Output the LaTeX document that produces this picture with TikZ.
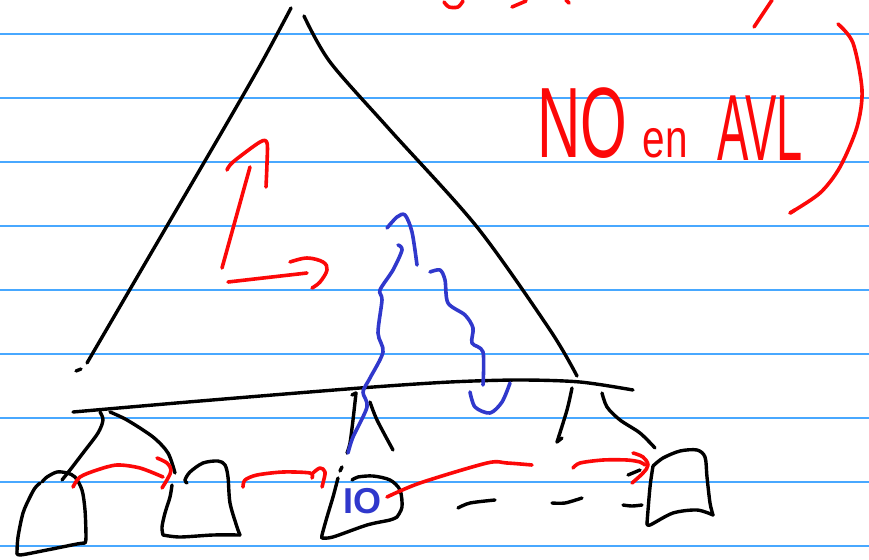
\documentclass[tikz,border=0pt]{standalone}
\usepackage{fontspec}
\setmainfont{Liberation Sans}
\usepackage{graphicx}
\definecolor{penred}{RGB}{252,8,8}
\definecolor{penblue}{RGB}{48,56,204}
\definecolor{rulecol}{RGB}{72,168,255}
\begin{document}
\begin{tikzpicture}[x=1pt,y=-1pt,
  blk/.style={line width=3.4pt, line cap=round, line join=round, black},
  rd/.style={line width=3.6pt, line cap=round, line join=round, penred},
  bl/.style={line width=3.6pt, line cap=round, line join=round, penblue},
  rulestyle/.style={line width=1.4pt, rulecol},
  redtxt/.style={text=penred, inner sep=0pt, anchor=base},
  bluetxt/.style={text=penblue, inner sep=0pt, anchor=base}]
\useasboundingbox (0,0) rectangle (869,559);
\fill[white] (0,0) rectangle (869,559);
% ruled lines
\foreach \yy in {34,98,162,226,290,354,418,482,546}
  \draw[rulestyle] (0,\yy) -- (869,\yy);

% ---------- triangle (tree) ----------
\draw[blk] plot[smooth] coordinates {(291,8) (262,62) (223,130) (150,255) (87,363)};
\draw[blk] (76,371) -- (81,369);
\draw[blk] plot[smooth] coordinates {(304,16) (330,62) (390,130) (477,227) (550,330) (577,376)};
% bottom bar
\draw[blk] plot[smooth] coordinates {(73,412) (200,401) (360,388) (450,382) (520,380) (580,382) (633,390)};

% ---------- branches ----------
\draw[blk] plot[smooth] coordinates {(100,412) (103,420) (98,433) (83,453) (70,470) (62,480)};
\draw[blk] plot[smooth] coordinates {(110,412) (127,420) (153,437) (168,453) (175,473)};
\draw[blk] plot[smooth] coordinates {(356,393) (353,420) (350,443) (347,453)};
\draw[blk] (352,395) -- (356,393);
\draw[blk] (342,467) -- (340,471);
\draw[blk] plot[smooth] coordinates {(370,402) (377,420) (393,450)};
\draw[blk] plot[smooth] coordinates {(572,388) (567,410) (557,442)};
\draw[blk] (557,442) -- (562,438);
\draw[blk] plot[smooth] coordinates {(602,393) (607,407) (620,420) (640,433) (655,448)};

% ---------- boxes ----------
% box 1
\draw[blk] plot[smooth, tension=0.5] coordinates {(40,483) (35,488) (30,497) (23,513) (18,537) (17,552)};
\draw[blk] plot[smooth, tension=0.5] coordinates {(17,552) (20,555) (47,550) (77,544) (85,543)};
\draw[blk] plot[smooth, tension=0.5] coordinates {(85,543) (86,537) (85,510) (82,490) (75,477) (67,473) (57,472) (47,477) (42,482)};
% box 2
\draw[blk] plot[smooth, tension=0.5] coordinates {(172,485) (170,497) (165,513) (162,527) (163,535)};
\draw[blk] plot[smooth, tension=0.5] coordinates {(163,535) (180,537) (213,535) (240,535)};
\draw[blk] plot[smooth, tension=0.5] coordinates {(240,535) (237,527) (230,503) (228,477) (225,465) (218,461) (203,463) (190,472) (185,480) (187,483)};
% box 3
\draw[blk] plot[smooth, tension=0.5] coordinates {(338,478) (333,497) (327,517) (322,535) (322,538)};
\draw[blk] plot[smooth, tension=0.5] coordinates {(322,538) (333,537) (367,525) (390,520) (397,517)};
\draw[blk] plot[smooth, tension=0.5] coordinates {(397,517) (402,507) (400,490) (390,480) (373,476) (358,477) (352,480)};
% box 4
\draw[blk] (628,475) -- (640,470);
\draw[blk] plot[smooth, tension=0.5] coordinates {(653,466) (650,487) (647,523)};
\draw[blk] plot[smooth, tension=0.5] coordinates {(647,523) (650,525) (673,513) (697,510) (713,515)};
\draw[blk] plot[smooth, tension=0.5] coordinates {(713,515) (710,503) (707,477) (705,457) (697,450) (680,451) (663,458) (653,466)};
% dashes
\draw[blk] plot[smooth] coordinates {(458,508) (470,503) (495,500)};
\draw[blk] plot[smooth] coordinates {(552,503) (565,503) (582,498)};
\draw[blk] plot[smooth] coordinates {(623,505) (632,506) (642,505)};

% ---------- red arrows ----------
\draw[rd] plot[smooth] coordinates {(73,487) (80,477) (97,470) (117,465) (140,468) (163,477)};
\draw[rd] plot[smooth, tension=0.6] coordinates {(157,458) (167,463) (171,470) (168,478) (162,488)};
\draw[rd] plot[smooth] coordinates {(243,487) (245,480) (257,475) (283,472) (310,473) (312,478)};
\draw[rd] plot[smooth, tension=0.6] coordinates {(313,473) (320,468) (325,472) (323,483) (322,487)};
\draw[rd] plot[smooth] coordinates {(387,497) (420,483) (487,463) (507,463) (532,465)};
\draw[rd] plot[smooth] coordinates {(573,468) (580,463) (603,460) (627,460) (640,462) (645,465)};
\draw[rd] plot[smooth, tension=0.6] coordinates {(633,453) (643,457) (648,465) (643,473) (632,483)};
% L-shaped arrows
\draw[rd] (222,268) -- (250,167);
\draw[rd] plot[smooth, tension=0.5] coordinates {(227,170) (233,162) (260,142) (267,143) (267,163) (266,187)};
\draw[rd] (228,282) -- (307,273);
\draw[rd] plot[smooth, tension=0.6] coordinates {(290,262) (307,258) (323,262) (327,270) (320,282) (312,288)};
% right parenthesis
\draw[rd] plot[smooth] coordinates {(838,24) (853,43) (862,90) (857,127) (840,167) (820,193) (790,213)};
\draw[rd] (790,213) -- (795,210);
% cut-off red writing at the top
\draw[rd] plot[smooth] coordinates {(444,2) (449,7) (458,7) (463,1)};
\draw[rd] (512,7) -- (526,1);
\draw[rd] (566,0) -- (569,3);
\draw[rd] (772,0) -- (754,27);

% red text
\node[redtxt] (no) at (582,157) {\scalebox{0.6}[1]{\fontsize{100}{100}\selectfont NO}};
\node[redtxt] (en) at (665,157) {\scalebox{0.75}[1]{\fontsize{54}{54}\selectfont en}};
\node[redtxt] (avl) at (760,160) {\scalebox{0.5}[1]{\fontsize{94}{94}\selectfont AVL}};

% ---------- blue ----------
\draw[bl] plot[smooth] coordinates {(348,453) (353,437) (367,407) (363,392) (370,378) (383,352) (378,333) (382,300) (380,290) (393,270) (402,250) (398,245)};
\draw[bl] plot[smooth] coordinates {(387,228) (397,217) (405,215) (412,232) (417,265)};
\draw[bl] plot[smooth] coordinates {(430,272) (440,270) (445,280) (448,303) (465,315) (473,328) (472,343) (483,352) (483,385)};
\draw[bl] plot[smooth] coordinates {(470,392) (475,407) (490,413) (502,402) (510,383)};
\node[bluetxt] (io) at (362,513) {\fontsize{36}{36}\selectfont\bfseries IO};
\end{tikzpicture}
\end{document}
